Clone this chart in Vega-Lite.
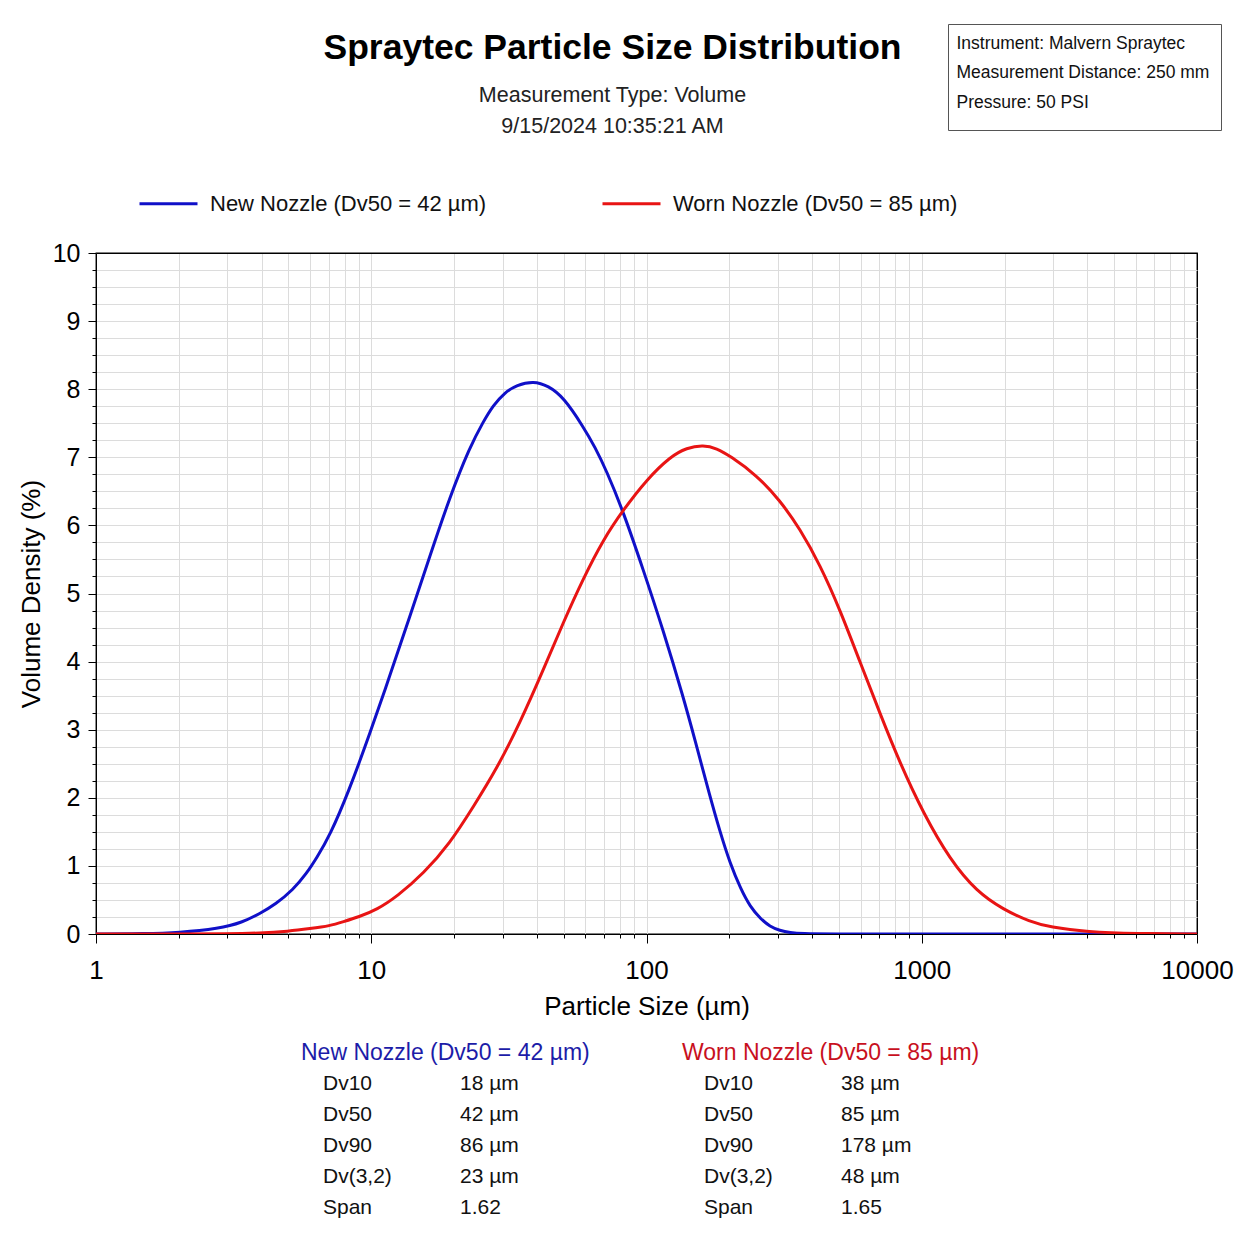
{
  "$schema": "https://vega.github.io/schema/vega-lite/v6.json",
  "width": 1101,
  "height": 681,
  "autosize": {"type": "none"},
  "padding": {"left": 96, "top": 253, "right": 57, "bottom": 300},
  "background": "white",
  "config": {
    "font": "Liberation Sans",
    "view": {"stroke": "#000", "strokeWidth": 1.3},
    "axis": {
      "domainColor": "#000",
      "tickColor": "#000",
      "labelColor": "#000",
      "titleColor": "#000",
      "titleFontWeight": "normal",
      "gridWidth": 1,
      "labelOverlap": false,
      "labelFlush": false
    }
  },
  "title": {
    "text": "Spraytec Particle Size Distribution",
    "subtitle": ["Measurement Type: Volume", "9/15/2024 10:35:21 AM"],
    "anchor": "middle",
    "dx": -34,
    "dy": 118,
    "fontSize": 35.5,
    "fontWeight": "bold",
    "color": "#000",
    "subtitleFontSize": 21.5,
    "subtitleLineHeight": 31,
    "subtitlePadding": 19,
    "subtitleColor": "#222",
    "font": "Liberation Sans",
    "subtitleFont": "Liberation Sans"
  },
  "datasets": {
    "curves": [
      {"series": "New Nozzle (Dv50 = 42 µm)", "size": 1, "density": 0},
      {"series": "New Nozzle (Dv50 = 42 µm)", "size": 1.5, "density": 0.005},
      {"series": "New Nozzle (Dv50 = 42 µm)", "size": 2, "density": 0.02},
      {"series": "New Nozzle (Dv50 = 42 µm)", "size": 2.8, "density": 0.08},
      {"series": "New Nozzle (Dv50 = 42 µm)", "size": 3.4, "density": 0.17},
      {"series": "New Nozzle (Dv50 = 42 µm)", "size": 3.94, "density": 0.3},
      {"series": "New Nozzle (Dv50 = 42 µm)", "size": 4.5, "density": 0.44},
      {"series": "New Nozzle (Dv50 = 42 µm)", "size": 5.2, "density": 0.65},
      {"series": "New Nozzle (Dv50 = 42 µm)", "size": 5.8, "density": 0.88},
      {"series": "New Nozzle (Dv50 = 42 µm)", "size": 6.34, "density": 1.12},
      {"series": "New Nozzle (Dv50 = 42 µm)", "size": 7.08, "density": 1.45},
      {"series": "New Nozzle (Dv50 = 42 µm)", "size": 8.26, "density": 2.08},
      {"series": "New Nozzle (Dv50 = 42 µm)", "size": 9.9, "density": 2.95},
      {"series": "New Nozzle (Dv50 = 42 µm)", "size": 11.7, "density": 3.8},
      {"series": "New Nozzle (Dv50 = 42 µm)", "size": 13.8, "density": 4.66},
      {"series": "New Nozzle (Dv50 = 42 µm)", "size": 16.3, "density": 5.54},
      {"series": "New Nozzle (Dv50 = 42 µm)", "size": 19.3, "density": 6.42},
      {"series": "New Nozzle (Dv50 = 42 µm)", "size": 22.8, "density": 7.15},
      {"series": "New Nozzle (Dv50 = 42 µm)", "size": 25.5, "density": 7.52},
      {"series": "New Nozzle (Dv50 = 42 µm)", "size": 27.7, "density": 7.76},
      {"series": "New Nozzle (Dv50 = 42 µm)", "size": 30.5, "density": 7.95},
      {"series": "New Nozzle (Dv50 = 42 µm)", "size": 33.8, "density": 8.06},
      {"series": "New Nozzle (Dv50 = 42 µm)", "size": 38.8, "density": 8.12},
      {"series": "New Nozzle (Dv50 = 42 µm)", "size": 44, "density": 8.05},
      {"series": "New Nozzle (Dv50 = 42 µm)", "size": 50, "density": 7.88},
      {"series": "New Nozzle (Dv50 = 42 µm)", "size": 58.9, "density": 7.45},
      {"series": "New Nozzle (Dv50 = 42 µm)", "size": 65, "density": 7.15},
      {"series": "New Nozzle (Dv50 = 42 µm)", "size": 71.6, "density": 6.8},
      {"series": "New Nozzle (Dv50 = 42 µm)", "size": 82.4, "density": 6.2},
      {"series": "New Nozzle (Dv50 = 42 µm)", "size": 97.3, "density": 5.35},
      {"series": "New Nozzle (Dv50 = 42 µm)", "size": 115, "density": 4.46},
      {"series": "New Nozzle (Dv50 = 42 µm)", "size": 136, "density": 3.48},
      {"series": "New Nozzle (Dv50 = 42 µm)", "size": 150, "density": 2.85},
      {"series": "New Nozzle (Dv50 = 42 µm)", "size": 170, "density": 2.02},
      {"series": "New Nozzle (Dv50 = 42 µm)", "size": 185, "density": 1.5},
      {"series": "New Nozzle (Dv50 = 42 µm)", "size": 201, "density": 1.04},
      {"series": "New Nozzle (Dv50 = 42 µm)", "size": 220, "density": 0.66},
      {"series": "New Nozzle (Dv50 = 42 µm)", "size": 238, "density": 0.4},
      {"series": "New Nozzle (Dv50 = 42 µm)", "size": 260, "density": 0.22},
      {"series": "New Nozzle (Dv50 = 42 µm)", "size": 281, "density": 0.11},
      {"series": "New Nozzle (Dv50 = 42 µm)", "size": 305, "density": 0.05},
      {"series": "New Nozzle (Dv50 = 42 µm)", "size": 332, "density": 0.02},
      {"series": "New Nozzle (Dv50 = 42 µm)", "size": 370, "density": 0.005},
      {"series": "New Nozzle (Dv50 = 42 µm)", "size": 450, "density": 0},
      {"series": "New Nozzle (Dv50 = 42 µm)", "size": 1000, "density": 0},
      {"series": "New Nozzle (Dv50 = 42 µm)", "size": 10000, "density": 0},
      {"series": "Worn Nozzle (Dv50 = 85 µm)", "size": 1, "density": 0},
      {"series": "Worn Nozzle (Dv50 = 85 µm)", "size": 2, "density": 0},
      {"series": "Worn Nozzle (Dv50 = 85 µm)", "size": 3, "density": 0.003},
      {"series": "Worn Nozzle (Dv50 = 85 µm)", "size": 3.94, "density": 0.012},
      {"series": "Worn Nozzle (Dv50 = 85 µm)", "size": 5, "density": 0.04},
      {"series": "Worn Nozzle (Dv50 = 85 µm)", "size": 6, "density": 0.08},
      {"series": "Worn Nozzle (Dv50 = 85 µm)", "size": 7.08, "density": 0.12},
      {"series": "Worn Nozzle (Dv50 = 85 µm)", "size": 7.91, "density": 0.18},
      {"series": "Worn Nozzle (Dv50 = 85 µm)", "size": 9, "density": 0.25},
      {"series": "Worn Nozzle (Dv50 = 85 µm)", "size": 10.5, "density": 0.36},
      {"series": "Worn Nozzle (Dv50 = 85 µm)", "size": 12.4, "density": 0.55},
      {"series": "Worn Nozzle (Dv50 = 85 µm)", "size": 15.5, "density": 0.89},
      {"series": "Worn Nozzle (Dv50 = 85 µm)", "size": 19.3, "density": 1.33},
      {"series": "Worn Nozzle (Dv50 = 85 µm)", "size": 23.5, "density": 1.87},
      {"series": "Worn Nozzle (Dv50 = 85 µm)", "size": 28.6, "density": 2.43},
      {"series": "Worn Nozzle (Dv50 = 85 µm)", "size": 34.7, "density": 3.1},
      {"series": "Worn Nozzle (Dv50 = 85 µm)", "size": 42.2, "density": 3.88},
      {"series": "Worn Nozzle (Dv50 = 85 µm)", "size": 49.9, "density": 4.58},
      {"series": "Worn Nozzle (Dv50 = 85 µm)", "size": 58.9, "density": 5.22},
      {"series": "Worn Nozzle (Dv50 = 85 µm)", "size": 69.6, "density": 5.79},
      {"series": "Worn Nozzle (Dv50 = 85 µm)", "size": 82.4, "density": 6.23},
      {"series": "Worn Nozzle (Dv50 = 85 µm)", "size": 100, "density": 6.67},
      {"series": "Worn Nozzle (Dv50 = 85 µm)", "size": 122, "density": 7.01},
      {"series": "Worn Nozzle (Dv50 = 85 µm)", "size": 140, "density": 7.14},
      {"series": "Worn Nozzle (Dv50 = 85 µm)", "size": 161, "density": 7.18},
      {"series": "Worn Nozzle (Dv50 = 85 µm)", "size": 180, "density": 7.13},
      {"series": "Worn Nozzle (Dv50 = 85 µm)", "size": 201, "density": 7.02},
      {"series": "Worn Nozzle (Dv50 = 85 µm)", "size": 251, "density": 6.74},
      {"series": "Worn Nozzle (Dv50 = 85 µm)", "size": 305, "density": 6.37},
      {"series": "Worn Nozzle (Dv50 = 85 µm)", "size": 361, "density": 5.95},
      {"series": "Worn Nozzle (Dv50 = 85 µm)", "size": 427, "density": 5.42},
      {"series": "Worn Nozzle (Dv50 = 85 µm)", "size": 505, "density": 4.76},
      {"series": "Worn Nozzle (Dv50 = 85 µm)", "size": 597, "density": 3.99},
      {"series": "Worn Nozzle (Dv50 = 85 µm)", "size": 705, "density": 3.24},
      {"series": "Worn Nozzle (Dv50 = 85 µm)", "size": 833, "density": 2.51},
      {"series": "Worn Nozzle (Dv50 = 85 µm)", "size": 1014, "density": 1.77},
      {"series": "Worn Nozzle (Dv50 = 85 µm)", "size": 1267, "density": 1.09},
      {"series": "Worn Nozzle (Dv50 = 85 µm)", "size": 1585, "density": 0.62},
      {"series": "Worn Nozzle (Dv50 = 85 µm)", "size": 1978, "density": 0.36},
      {"series": "Worn Nozzle (Dv50 = 85 µm)", "size": 2473, "density": 0.18},
      {"series": "Worn Nozzle (Dv50 = 85 µm)", "size": 2924, "density": 0.1},
      {"series": "Worn Nozzle (Dv50 = 85 µm)", "size": 4000, "density": 0.03},
      {"series": "Worn Nozzle (Dv50 = 85 µm)", "size": 6000, "density": 0.005},
      {"series": "Worn Nozzle (Dv50 = 85 µm)", "size": 10000, "density": 0}
    ],
    "stats": [
      {"nozzle": "New", "row": 0, "label": "New Nozzle (Dv50 = 42 µm)", "value": ""},
      {"nozzle": "New", "row": 1, "label": "Dv10", "value": "18 µm"},
      {"nozzle": "New", "row": 2, "label": "Dv50", "value": "42 µm"},
      {"nozzle": "New", "row": 3, "label": "Dv90", "value": "86 µm"},
      {"nozzle": "New", "row": 4, "label": "Dv(3,2)", "value": "23 µm"},
      {"nozzle": "New", "row": 5, "label": "Span", "value": "1.62"},
      {"nozzle": "Worn", "row": 0, "label": "Worn Nozzle (Dv50 = 85 µm)", "value": ""},
      {"nozzle": "Worn", "row": 1, "label": "Dv10", "value": "38 µm"},
      {"nozzle": "Worn", "row": 2, "label": "Dv50", "value": "85 µm"},
      {"nozzle": "Worn", "row": 3, "label": "Dv90", "value": "178 µm"},
      {"nozzle": "Worn", "row": 4, "label": "Dv(3,2)", "value": "48 µm"},
      {"nozzle": "Worn", "row": 5, "label": "Span", "value": "1.65"}
    ],
    "info": [
      {"line": "Instrument: Malvern Spraytec"},
      {"line": "Measurement Distance: 250 mm"},
      {"line": "Pressure: 50 PSI"}
    ]
  },
  "layer": [
    {
      "data": {"name": "curves"},
      "mark": {"type": "line", "strokeWidth": 3, "interpolate": "basis", "clip": true},
      "encoding": {
        "x": {
          "field": "size",
          "type": "quantitative",
          "scale": {"type": "log", "domain": [1, 10000], "nice": false},
          "axis": {
            "title": "Particle Size (µm)",
            "values": [1,2,3,4,5,6,7,8,9,10,20,30,40,50,60,70,80,90,100,200,300,400,500,600,700,800,900,1000,2000,3000,4000,5000,6000,7000,8000,9000,10000],
            "labelExpr": "indexof([1,10,100,1000,10000], datum.value) >= 0 ? format(datum.value, 'd') : ''",
            "tickSize": {"condition": {"test": "indexof([1,10,100,1000,10000], datum.value) >= 0", "value": 9}, "value": 4},
            "grid": true,
            "gridColor": {"condition": {"test": "datum.value === 10000", "value": "#000"}, "value": "#dcdcdc"},
            "labelFontSize": 26,
            "titleFontSize": 26,
            "labelPadding": 14,
            "titlePadding": 10
          }
        },
        "y": {
          "field": "density",
          "type": "quantitative",
          "scale": {"domain": [0, 10], "nice": false},
          "axis": {
            "title": "Volume Density (%)",
            "values": [0,0.25,0.5,0.75,1,1.25,1.5,1.75,2,2.25,2.5,2.75,3,3.25,3.5,3.75,4,4.25,4.5,4.75,5,5.25,5.5,5.75,6,6.25,6.5,6.75,7,7.25,7.5,7.75,8,8.25,8.5,8.75,9,9.25,9.5,9.75,10],
            "labelExpr": "datum.value % 1 === 0 ? format(datum.value, 'd') : ''",
            "tickSize": {"condition": {"test": "datum.value % 1 === 0", "value": 8}, "value": 4},
            "grid": true,
            "gridColor": {"condition": {"test": "datum.value === 10", "value": "#000"}, "value": "#dcdcdc"},
            "labelFontSize": 25,
            "titleFontSize": 26,
            "labelPadding": 8,
            "titlePadding": 8
          }
        },
        "color": {
          "field": "series",
          "type": "nominal",
          "scale": {"domain": ["New Nozzle (Dv50 = 42 µm)", "Worn Nozzle (Dv50 = 85 µm)"], "range": ["#1010c8", "#e81414"]},
          "legend": {
            "orient": "none",
            "legendX": 42,
            "legendY": -80,
            "direction": "horizontal",
            "title": null,
            "symbolType": "stroke",
            "symbolSize": 3364,
            "symbolStrokeWidth": 3,
            "labelFontSize": 22,
            "labelOffset": 11,
            "columnPadding": 109,
            "labelLimit": 500,
            "labelColor": "#111"
          }
        }
      }
    },
    {
      "data": {"name": "stats"},
      "encoding": {
        "x": {"field": "nozzle", "type": "nominal", "scale": {"type": "point", "domain": ["New", "Worn"], "range": [227, 608], "padding": 0}, "axis": null},
        "y": {"field": "row", "type": "ordinal", "scale": {"type": "point", "domain": [0, 1, 2, 3, 4, 5], "range": [800, 955], "padding": 0}, "axis": null}
      },
      "layer": [
        {
          "transform": [{"filter": "datum.row === 0"}],
          "mark": {"type": "text", "align": "left", "baseline": "middle", "fontSize": 23, "dx": -22},
          "encoding": {
            "text": {"field": "label"},
            "color": {"condition": {"test": "datum.nozzle === 'New'", "value": "#1c1ca8"}, "value": "#c8101e"}
          }
        },
        {
          "transform": [{"filter": "datum.row > 0"}],
          "mark": {"type": "text", "align": "left", "baseline": "middle", "fontSize": 21, "color": "#111"},
          "encoding": {"text": {"field": "label"}}
        },
        {
          "transform": [{"filter": "datum.row > 0"}],
          "mark": {"type": "text", "align": "left", "baseline": "middle", "fontSize": 21, "color": "#111", "dx": 137},
          "encoding": {"text": {"field": "value"}}
        }
      ]
    },
    {
      "data": {"name": "info"},
      "mark": {"type": "point", "opacity": 0},
      "encoding": {
        "shape": {
          "field": "line",
          "type": "nominal",
          "scale": {"domain": ["Instrument: Malvern Spraytec", "Measurement Distance: 250 mm", "Pressure: 50 PSI"]},
          "legend": {
            "orient": "none",
            "legendX": 852,
            "legendY": -229,
            "title": " ",
            "titleOrient": "bottom",
            "titleFontSize": 8,
            "titlePadding": 0,
            "labelFontSize": 17.5,
            "labelOffset": -20,
            "symbolSize": 1,
            "symbolStrokeWidth": 0,
            "symbolOpacity": 0,
            "rowPadding": 10.5,
            "padding": 11,
            "strokeColor": "#555",
            "fillColor": "#fff",
            "labelLimit": 400,
            "labelColor": "#111"
          }
        }
      }
    }
  ],
  "resolve": {"scale": {"x": "independent", "y": "independent"}}
}
